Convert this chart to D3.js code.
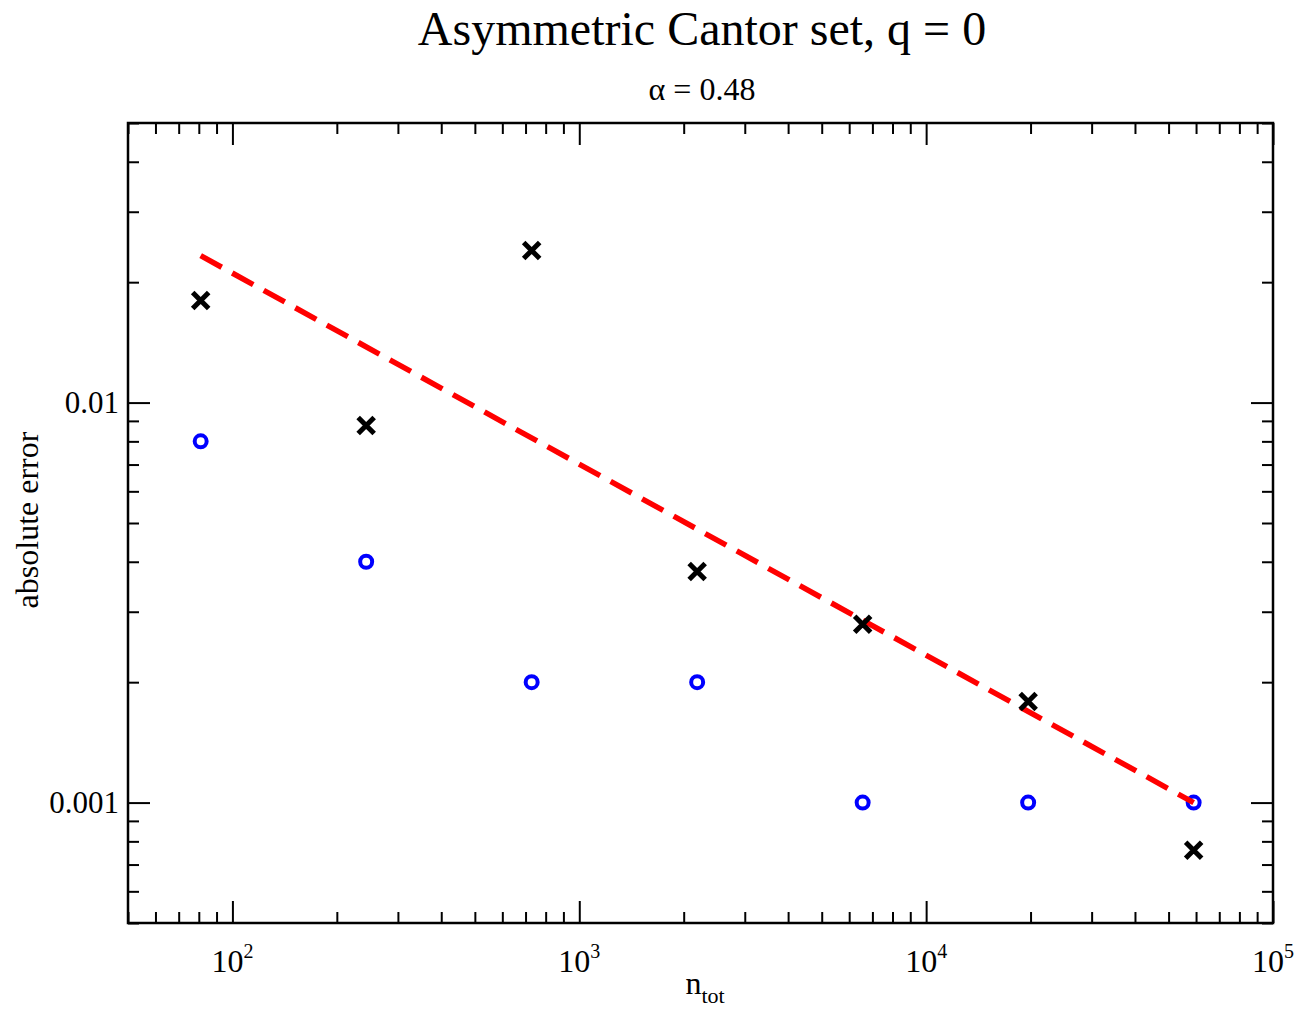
<!DOCTYPE html>
<html lang="en">
<head>
<meta charset="UTF-8">
<title>Asymmetric Cantor set</title>
<script src="https://cdn.jsdelivr.net/npm/d3@7"></script>
<style>
  body { margin: 0; background: #fff; }
  svg text { font-family: "Liberation Serif", "Times New Roman", serif; fill: #000; }
</style>
</head>
<body>
<script>
// data
const nTot = [81, 243, 729, 2187, 6561, 19683, 59049];
const errCross = [0.018, 0.00876, 0.024, 0.00378, 0.00279, 0.00179, 0.00076];
const errCircle = [0.008, 0.004, 0.002, 0.002, 0.001, 0.001, 0.001];
const fitX = [81, 59049];
const fitY = [0.0233, 0.001];
const xMajor = [100, 1000, 10000, 100000];
const xMajorExp = ['2', '3', '4', '5'];
const yMajor = [0.001, 0.01];
const yMajorLabels = ['0.001', '0.01'];

const width = 1301, height = 1013;
const margin = { top: 123, right: 28, bottom: 90, left: 128 };

const svg = d3.select('body').append('svg')
  .attr('width', width)
  .attr('height', height);

const x = d3.scaleLog().domain([50, 100000]).range([margin.left, width - margin.right]);
const y = d3.scaleLog().domain([0.0005, 0.05]).range([height - margin.bottom, margin.top]);

const isMajor = v => Math.abs(Math.log10(v) - Math.round(Math.log10(v))) < 1e-9;

// axes, ticks pointing inside on all four sides
function styleAxis(g) {
  g.select('.domain').remove();
  g.selectAll('.tick line').attr('stroke', '#000').attr('stroke-width', 2);
  g.selectAll('.tick text').remove();
}

const xt = x.ticks();
const yt = y.ticks();

const gx = svg.append('g')
  .attr('transform', `translate(0,${height - margin.bottom})`)
  .call(d3.axisBottom(x).tickValues(xt).tickSize(0));
gx.call(styleAxis);
gx.selectAll('.tick line').attr('y2', d => isMajor(d) ? -22 : -11);

const gxTop = svg.append('g')
  .attr('transform', `translate(0,${margin.top})`)
  .call(d3.axisTop(x).tickValues(xt).tickSize(0));
gxTop.call(styleAxis);
gxTop.selectAll('.tick line').attr('y2', d => isMajor(d) ? 22 : 11);

const gy = svg.append('g')
  .attr('transform', `translate(${margin.left},0)`)
  .call(d3.axisLeft(y).tickValues(yt).tickSize(0));
gy.call(styleAxis);
gy.selectAll('.tick line').attr('x2', d => isMajor(d) ? 22 : 11);

const gyR = svg.append('g')
  .attr('transform', `translate(${width - margin.right},0)`)
  .call(d3.axisRight(y).tickValues(yt).tickSize(0));
gyR.call(styleAxis);
gyR.selectAll('.tick line').attr('x2', d => isMajor(d) ? -22 : -11);

// frame
svg.append('rect')
  .attr('x', margin.left)
  .attr('y', margin.top)
  .attr('width', width - margin.left - margin.right)
  .attr('height', height - margin.top - margin.bottom)
  .attr('fill', 'none')
  .attr('stroke', '#000')
  .attr('stroke-width', 2.5);

// tick labels
const xl = svg.append('g').selectAll('text')
  .data(xMajor)
  .join('text')
  .attr('x', d => x(d))
  .attr('y', height - margin.bottom + 49)
  .attr('text-anchor', 'middle')
  .attr('font-size', 32);
xl.append('tspan').text('10');
xl.append('tspan').attr('dy', -14).attr('font-size', 20).text((d, i) => xMajorExp[i]);

svg.append('g').selectAll('text')
  .data(yMajor)
  .join('text')
  .attr('x', margin.left - 9)
  .attr('y', d => y(d))
  .attr('dy', '0.35em')
  .attr('text-anchor', 'end')
  .attr('font-size', 31)
  .text((d, i) => yMajorLabels[i]);

// titles
svg.append('text')
  .attr('x', 702).attr('y', 45)
  .attr('text-anchor', 'middle')
  .attr('font-size', 48)
  .text('Asymmetric Cantor set, q = 0');

svg.append('text')
  .attr('x', 702).attr('y', 100)
  .attr('text-anchor', 'middle')
  .attr('font-size', 32)
  .text('\u03b1 = 0.48');

const xlab = svg.append('text')
  .attr('x', 705).attr('y', 994)
  .attr('text-anchor', 'middle')
  .attr('font-size', 32);
xlab.append('tspan').text('n');
xlab.append('tspan').attr('dy', 9).attr('font-size', 22).text('tot');

svg.append('text')
  .attr('transform', `translate(38,520) rotate(-90)`)
  .attr('text-anchor', 'middle')
  .attr('font-size', 32)
  .text('absolute error');

// circles
svg.append('g').selectAll('circle')
  .data(nTot)
  .join('circle')
  .attr('cx', d => x(d))
  .attr('cy', (d, i) => y(errCircle[i]))
  .attr('r', 6)
  .attr('fill', 'none')
  .attr('stroke', '#0000ff')
  .attr('stroke-width', 4);

// fit line
svg.append('path')
  .datum(fitX.map((d, i) => [d, fitY[i]]))
  .attr('d', d3.line().x(d => x(d[0])).y(d => y(d[1])))
  .attr('fill', 'none')
  .attr('stroke', '#ff0000')
  .attr('stroke-width', 5.5)
  .attr('stroke-dasharray', '24 12');

// crosses
const s = 8;
svg.append('g').selectAll('path')
  .data(nTot)
  .join('path')
  .attr('transform', (d, i) => `translate(${x(d)},${y(errCross[i])})`)
  .attr('d', `M${-s},${-s}L${s},${s}M${-s},${s}L${s},${-s}`)
  .attr('stroke', '#000')
  .attr('stroke-width', 5)
  .attr('fill', 'none');
</script>
</body>
</html>
